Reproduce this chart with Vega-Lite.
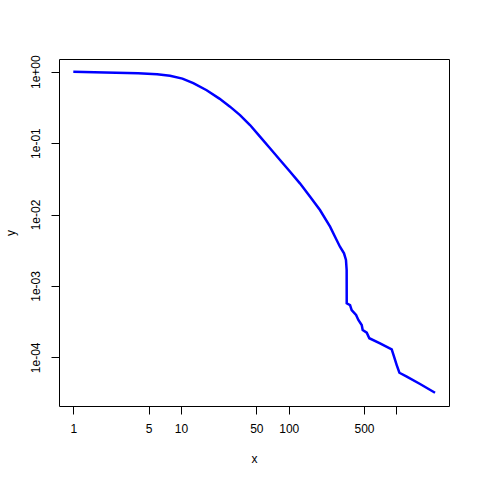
{
  "$schema": "https://vega.github.io/schema/vega-lite/v6.json",
  "width": 390,
  "height": 347,
  "autosize": {"type": "none"},
  "padding": {"left": 59, "top": 59, "right": 31, "bottom": 74},
  "background": "white",
  "config": {
    "view": {"stroke": "black", "strokeWidth": 1},
    "font": "Liberation Sans",
    "axis": {
      "grid": false,
      "domain": false,
      "tickColor": "black",
      "tickSize": 8,
      "labelColor": "black",
      "labelFontSize": 12,
      "labelFont": "Liberation Sans",
      "titleFont": "Liberation Sans",
      "titleFontSize": 12,
      "titleFontWeight": "normal",
      "titleColor": "black"
    }
  },
  "data": {
    "values": [
      {"x": 1, "y": 1.0},
      {"x": 1.97, "y": 0.975},
      {"x": 4.0, "y": 0.95},
      {"x": 6.0, "y": 0.92},
      {"x": 7.9, "y": 0.876},
      {"x": 10.3, "y": 0.8},
      {"x": 13.0, "y": 0.69},
      {"x": 17.3, "y": 0.55},
      {"x": 22.7, "y": 0.42},
      {"x": 28.5, "y": 0.324},
      {"x": 35.3, "y": 0.247},
      {"x": 43.7, "y": 0.179},
      {"x": 54.1, "y": 0.123},
      {"x": 67, "y": 0.0846},
      {"x": 83, "y": 0.058},
      {"x": 103, "y": 0.0397},
      {"x": 127, "y": 0.0273},
      {"x": 158, "y": 0.0177},
      {"x": 195, "y": 0.01156},
      {"x": 242, "y": 0.00675},
      {"x": 269, "y": 0.00489},
      {"x": 299, "y": 0.00354},
      {"x": 326, "y": 0.00286},
      {"x": 340, "y": 0.00231},
      {"x": 345, "y": 0.00167},
      {"x": 345.5, "y": 0.00057},
      {"x": 371, "y": 0.00054},
      {"x": 384, "y": 0.000459},
      {"x": 422, "y": 0.000391},
      {"x": 443, "y": 0.000333},
      {"x": 476, "y": 0.000283},
      {"x": 486, "y": 0.000241},
      {"x": 530, "y": 0.000221},
      {"x": 560, "y": 0.000185},
      {"x": 704, "y": 0.000157},
      {"x": 904, "y": 0.000129},
      {"x": 950, "y": 0.000102},
      {"x": 1006, "y": 0.000078},
      {"x": 1065, "y": 0.0000608},
      {"x": 1247, "y": 0.0000535},
      {"x": 1657, "y": 0.0000423},
      {"x": 2282, "y": 0.0000319}
    ]
  },
  "mark": {"type": "line", "color": "#0000FF", "strokeWidth": 2.5, "clip": true},
  "encoding": {
    "x": {
      "field": "x",
      "type": "quantitative",
      "scale": {"type": "log", "domain": [0.7366, 3076], "nice": false, "zero": false},
      "axis": {
        "title": "x",
        "values": [1, 5, 10, 50, 100, 500, 1000],
        "labelExpr": "datum.value == 1000 ? '' : format(datum.value, 'd')",
        "labelPadding": 9,
        "labelBaseline": "top",
        "titleY": 52,
        "titleBaseline": "middle",
        "titleAnchor": "middle"
      }
    },
    "y": {
      "field": "y",
      "type": "quantitative",
      "scale": {"type": "log", "domain": [0.0000208, 1.506], "nice": false, "zero": false},
      "axis": {
        "title": "y",
        "values": [1, 0.1, 0.01, 0.001, 0.0001],
        "labelExpr": "datum.value == 1 ? '1e+00' : datum.value == 0.1 ? '1e-01' : datum.value == 0.01 ? '1e-02' : datum.value == 0.001 ? '1e-03' : '1e-04'",
        "labelAngle": -90,
        "labelAlign": "center",
        "labelBaseline": "bottom",
        "labelPadding": 9,
        "titleAngle": -90,
        "titleX": -49,
        "titleY": 173.5,
        "titleBaseline": "middle",
        "titleAlign": "center"
      }
    }
  }
}
